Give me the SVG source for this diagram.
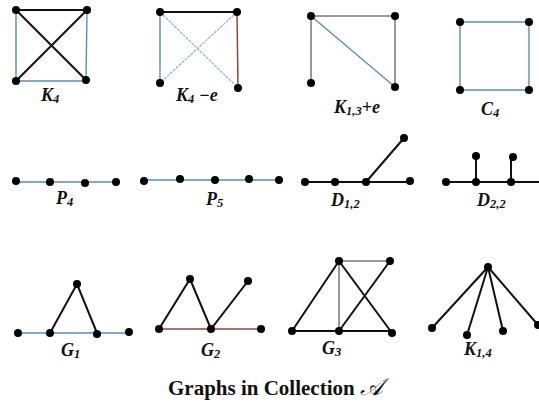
<svg xmlns="http://www.w3.org/2000/svg" width="539" height="405" viewBox="0 0 539 405">
<style>
.e{stroke:#111;stroke-width:2;fill:none;stroke-linecap:round}
.b{stroke:#5b8db5;stroke-width:1.4;fill:none}
.lb{stroke:#8ab4d4;stroke-width:1.2;fill:none}
.r{stroke:#8a4a3a;stroke-width:1.5;fill:none}
.g{stroke:#777;stroke-width:1.5;fill:none}
.n{fill:#000}
.lab{font-family:"Liberation Serif",serif;font-style:italic;font-weight:bold;font-size:18px;fill:#111}
.sub{font-size:12.5px}
.t{font-family:"Liberation Serif",serif;font-weight:bold;font-size:21px;fill:#111}
</style>
<rect width="539" height="405" fill="#fff"/>
<g id="connectors">
<path class="e" d="M16,10H87M16,10L86,80M87,10L16,81"/>
<path class="b" d="M16,10V81M87,10L86,80M16,81H86"/>
<path class="e" d="M160,12H237" stroke-width="1.6"/>
<path class="b" d="M160,12V83"/>
<path class="r" d="M237,12L238,88"/>
<path class="lb" d="M160,12L238,88M237,12L160,83" stroke-dasharray="3,1"/>
<path class="g" d="M311,16H395M311,16V83M395,16V87"/>
<path class="b" d="M311,16L395,87"/>
<path class="b" d="M460,22H529V90H460Z" stroke="#4a6f90"/>
<path class="b" d="M16,182H116"/>
<path class="b" d="M144,180H279"/>
<path class="e" d="M305,182H410M366,182L404,138"/>
<path class="e" d="M446,182H539M476,182V156M511,182V157L513,157"/>
<path class="b" d="M18,333H129"/>
<path class="e" d="M50,333L77,284L97,333"/>
<path class="r" d="M159,329H261" stroke="#7a5548"/>
<path class="e" d="M159,329L190,279L211,329L248,281"/>
<path class="g" d="M339,261H390M339,261V331"/>
<path class="e" d="M339,261L292,331M339,261L392,333M390,261L339,331M292,331H392"/>
<path class="e" d="M488,267L432,328M488,267L467,335M488,267L503,331M488,267L538,325"/>
</g>
<g id="K4"><circle class="n" cx="16" cy="10" r="4"/><circle class="n" cx="87" cy="10" r="4"/><circle class="n" cx="16" cy="81" r="4"/><circle class="n" cx="86" cy="80" r="4"/>
<text class="lab" x="41" y="101">K<tspan class="sub" dy="2">4</tspan></text></g>
<g id="K4-e"><circle class="n" cx="160" cy="12" r="4"/><circle class="n" cx="237" cy="12" r="4"/><circle class="n" cx="160" cy="83" r="4"/><circle class="n" cx="238" cy="88" r="4"/>
<text class="lab" x="176" y="101">K<tspan class="sub" dy="2">4</tspan><tspan dy="-2"> −e</tspan></text></g>
<g id="K13e"><circle class="n" cx="311" cy="16" r="4"/><circle class="n" cx="395" cy="16" r="4"/><circle class="n" cx="311" cy="83" r="4"/><circle class="n" cx="395" cy="87" r="4"/>
<text class="lab" x="334" y="113">K<tspan class="sub" dy="2">1,3</tspan><tspan dy="-2">+e</tspan></text></g>
<g id="C4"><circle class="n" cx="460" cy="22" r="4"/><circle class="n" cx="529" cy="22" r="4"/><circle class="n" cx="460" cy="90" r="4"/><circle class="n" cx="529" cy="90" r="4"/>
<text class="lab" x="481" y="115">C<tspan class="sub" dy="2">4</tspan></text></g>
<g id="P4"><circle class="n" cx="16" cy="181" r="4"/><circle class="n" cx="50" cy="182" r="4"/><circle class="n" cx="85" cy="183" r="4"/><circle class="n" cx="116" cy="182" r="4"/>
<text class="lab" x="56" y="204">P<tspan class="sub" dy="2">4</tspan></text></g>
<g id="P5"><circle class="n" cx="144" cy="181" r="4"/><circle class="n" cx="180" cy="179" r="4"/><circle class="n" cx="215" cy="180" r="4"/><circle class="n" cx="249" cy="179" r="4"/><circle class="n" cx="279" cy="180" r="4"/>
<text class="lab" x="206" y="205">P<tspan class="sub" dy="2">5</tspan></text></g>
<g id="D12"><circle class="n" cx="305" cy="182" r="4"/><circle class="n" cx="335" cy="182" r="4"/><circle class="n" cx="366" cy="182" r="4"/><circle class="n" cx="410" cy="181" r="4"/><circle class="n" cx="404" cy="138" r="4"/>
<text class="lab" x="331" y="206">D<tspan class="sub" dy="2">1,2</tspan></text></g>
<g id="D22"><circle class="n" cx="446" cy="182" r="4"/><circle class="n" cx="476" cy="182" r="4"/><circle class="n" cx="511" cy="182" r="4"/><circle class="n" cx="476" cy="156" r="4"/><circle class="n" cx="513" cy="157" r="4"/>
<text class="lab" x="477" y="206">D<tspan class="sub" dy="2">2,2</tspan></text></g>
<g id="G1"><circle class="n" cx="18" cy="333" r="4"/><circle class="n" cx="50" cy="333" r="4"/><circle class="n" cx="77" cy="284" r="4"/><circle class="n" cx="97" cy="334" r="4"/><circle class="n" cx="129" cy="332" r="4"/>
<text class="lab" x="61" y="356">G<tspan class="sub" dy="2">1</tspan></text></g>
<g id="G2"><circle class="n" cx="159" cy="329" r="4"/><circle class="n" cx="190" cy="279" r="4"/><circle class="n" cx="211" cy="329" r="4"/><circle class="n" cx="248" cy="281" r="4"/><circle class="n" cx="261" cy="329" r="4"/>
<text class="lab" x="201" y="356">G<tspan class="sub" dy="2">2</tspan></text></g>
<g id="G3"><circle class="n" cx="339" cy="261" r="4"/><circle class="n" cx="390" cy="261" r="4"/><circle class="n" cx="292" cy="331" r="4"/><circle class="n" cx="339" cy="331" r="4"/><circle class="n" cx="392" cy="333" r="4"/>
<text class="lab" x="322" y="354">G<tspan class="sub" dy="2">3</tspan></text></g>
<g id="K14"><circle class="n" cx="488" cy="267" r="4"/><circle class="n" cx="432" cy="328" r="4"/><circle class="n" cx="467" cy="335" r="4"/><circle class="n" cx="503" cy="331" r="4"/><circle class="n" cx="538" cy="325" r="4"/>
<text class="lab" x="464" y="355">K<tspan class="sub" dy="2">1,4</tspan></text></g>
<g id="title"><text class="t" x="168" y="395">Graphs in Collection <tspan font-style="italic" font-family="'DejaVu Serif','DejaVu Sans',serif" font-weight="normal" font-size="24">𝒜</tspan></text></g>
</svg>
